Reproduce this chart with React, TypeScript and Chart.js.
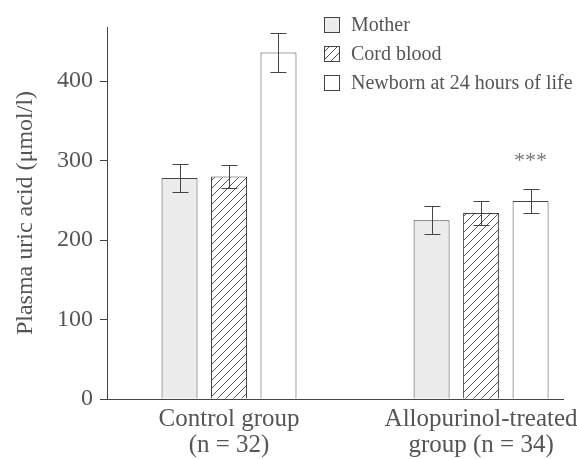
import { useEffect, useRef } from 'react';
import { Chart, registerables } from 'chart.js';

Chart.register(...registerables);

// ---- data ----
const groupLabels = [
  ['Control group', '(n = 32)'],
  ['Allopurinol-treated', 'group (n = 34)'],
];
const groupPositions = [0, 1];
const seriesNames = ['Mother', 'Cord blood', 'Newborn at 24 hours of life'];
const motherValues = [278, 225];
const cordValues = [280, 234];
const newbornValues = [436, 249];
const motherErrors = [18, 17.5];
const cordErrors = [14.5, 15];
const newbornErrors = [24, 15.5];
const newbornSignificance = ['', '***'];
const yTickValues = [0, 100, 200, 300, 400];

const FONT = "'Liberation Serif', 'Times New Roman', serif";
const TEXT = '#555';
const LINE = '#444';

function makeHatch(): CanvasPattern | string {
  const n = 8;
  const c = document.createElement('canvas');
  c.width = n;
  c.height = n;
  const g = c.getContext('2d');
  if (!g) return '#fff';
  g.fillStyle = '#fff';
  g.fillRect(0, 0, n, n);
  g.strokeStyle = '#555';
  g.lineWidth = 1;
  g.beginPath();
  g.moveTo(-1, n + 1);
  g.lineTo(n + 1, -1);
  g.moveTo(-1, 1);
  g.lineTo(1, -1);
  g.moveTo(n - 1, n + 1);
  g.lineTo(n + 1, n - 1);
  g.stroke();
  return g.createPattern(c, 'repeat') || '#fff';
}

export default function App() {
  const ref = useRef<HTMLCanvasElement | null>(null);

  useEffect(() => {
    if (!ref.current) return;
    const hatch = makeHatch();
    const values = [motherValues, cordValues, newbornValues];
    const errors = [motherErrors, cordErrors, newbornErrors];
    const fills: (string | CanvasPattern)[] = ['#ececec', hatch, '#ffffff'];

    const errorBarPlugin = {
      id: 'errorBars',
      afterDatasetsDraw(chart: any) {
        const { ctx } = chart;
        const y = chart.scales.y;
        ctx.save();
        ctx.strokeStyle = LINE;
        ctx.lineWidth = 1;
        values.forEach((vals, di) => {
          const meta = chart.getDatasetMeta(di);
          meta.data.forEach((bar: any, i: number) => {
            const x = Math.round(bar.x) + 0.5;
            const top = Math.round(y.getPixelForValue(vals[i] + errors[di][i])) + 0.5;
            const bot = Math.round(y.getPixelForValue(vals[i] - errors[di][i])) + 0.5;
            ctx.beginPath();
            ctx.moveTo(x, top);
            ctx.lineTo(x, bot);
            ctx.moveTo(x - 8, top);
            ctx.lineTo(x + 8, top);
            ctx.moveTo(x - 8, bot);
            ctx.lineTo(x + 8, bot);
            ctx.stroke();
          });
        });
        // significance marks above newborn bars
        const nm = chart.getDatasetMeta(2);
        ctx.fillStyle = '#777';
        ctx.font = `22px ${FONT}`;
        ctx.textAlign = 'center';
        ctx.textBaseline = 'middle';
        nm.data.forEach((bar: any, i: number) => {
          const s = newbornSignificance[i];
          if (!s) return;
          const top = y.getPixelForValue(newbornValues[i] + newbornErrors[i]);
          ctx.fillText(s, bar.x, top - 28);
        });
        ctx.restore();
      },
    };

    const legendPlugin = {
      id: 'boxLegend',
      afterDraw(chart: any) {
        const { ctx } = chart;
        const x0 = 324;
        const y0 = 17;
        const row = 29;
        const box = 16;
        ctx.save();
        ctx.font = `20px ${FONT}`;
        ctx.textAlign = 'left';
        ctx.textBaseline = 'middle';
        seriesNames.forEach((name, i) => {
          const by = y0 + i * row;
          ctx.fillStyle = fills[i];
          ctx.fillRect(x0, by, box, box);
          ctx.strokeStyle = LINE;
          ctx.lineWidth = 1;
          ctx.strokeRect(x0 + 0.5, by + 0.5, box - 1, box - 1);
          ctx.fillStyle = TEXT;
          ctx.fillText(name, x0 + 27, by + box / 2 + 1);
        });
        ctx.restore();
      },
    };

    const chart = new Chart(ref.current, {
      type: 'bar',
      data: {
        datasets: seriesNames.map((name, di) => ({
          label: name,
          data: groupPositions.map((x, i) => ({ x, y: values[di][i] })),
          backgroundColor: fills[di] as any,
          borderColor: LINE,
          borderWidth: 1,
          categoryPercentage: 0.589,
          barPercentage: 0.727,
        })),
      },
      options: {
        animation: false,
        responsive: true,
        maintainAspectRatio: false,
        layout: { padding: { left: 0, right: 14, top: 27, bottom: 0 } },
        plugins: {
          legend: { display: false },
          tooltip: { enabled: false },
        },
        scales: {
          x: {
            type: 'linear',
            min: -0.484,
            max: 1.325,
            offset: false,
            afterBuildTicks: (s: any) => {
              s.ticks = groupPositions.map((v) => ({ value: v }));
            },
            afterFit: (s: any) => {
              s.height = 60;
              s.paddingLeft = 0;
              s.paddingRight = 0;
            },
            grid: { display: false, drawTicks: false, offset: false },
            border: { display: true, color: LINE, width: 1 },
            ticks: {
              autoSkip: false,
              maxRotation: 0,
              padding: 7,
              color: TEXT,
              font: { family: FONT, size: 25, lineHeight: 1.04 },
              callback: (_v: any, i: number) => groupLabels[i],
            },
          },
          y: {
            min: 0,
            max: 468,
            afterBuildTicks: (s: any) => {
              s.ticks = yTickValues.map((v) => ({ value: v }));
            },
            afterFit: (s: any) => {
              s.width = 107;
              s.paddingTop = 0;
              s.paddingBottom = 0;
            },
            grid: { drawOnChartArea: false, drawTicks: true, tickLength: 7, color: LINE },
            border: { display: true, color: LINE, width: 1 },
            ticks: {
              padding: 7,
              color: TEXT,
              font: { family: FONT, size: 24 },
            },
            title: {
              display: true,
              text: 'Plasma uric acid (μmol/l)',
              color: TEXT,
              font: { family: FONT, size: 24 },
              padding: { top: 11, bottom: 0 },
            },
          },
        },
      },
      plugins: [errorBarPlugin, legendPlugin],
    } as any);

    return () => chart.destroy();
  }, []);

  return (
    <div style={{ position: 'fixed', left: 0, top: 0, width: 577, height: 459, background: '#fff' }}>
      <canvas ref={ref} />
    </div>
  );
}
